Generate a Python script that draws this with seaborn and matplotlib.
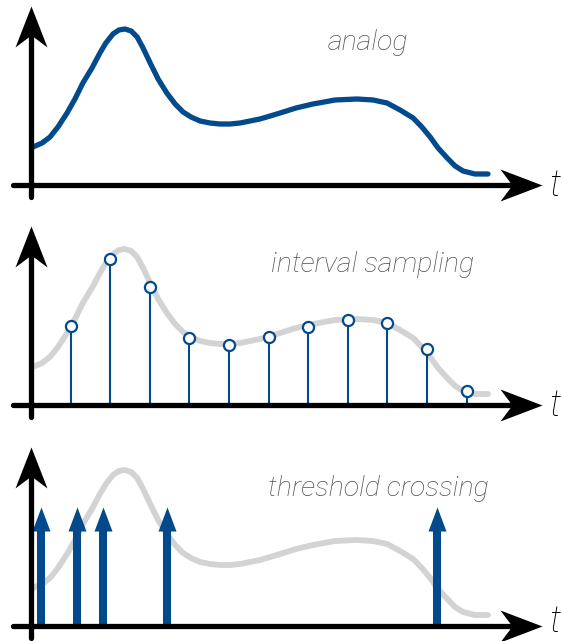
import numpy as np
import pandas as pd
import matplotlib
matplotlib.use("Agg")
import matplotlib.pyplot as plt
from matplotlib.path import Path
import seaborn as sns

# ---------------- data ----------------
# analog signal (time units, amplitude units)
curve_t = [0.05, 0.28, 0.48, 0.68, 0.91, 1.11, 1.31, 1.54, 1.74, 1.89, 2.07, 2.22,
           2.37, 2.53, 2.68, 2.83, 3.01, 3.21, 3.43, 3.64, 3.84, 4.04, 4.27, 4.52,
           4.77, 5.03, 5.28, 5.53, 5.78, 6.04, 6.29, 6.69, 7.12, 7.68, 8.23, 8.64,
           8.99, 9.32, 9.65, 9.87, 10.08, 10.28, 10.51, 10.71, 10.91, 11.21, 11.54]
curve_v = [0.38, 0.42, 0.48, 0.58, 0.72, 0.86, 1.02, 1.17, 1.32, 1.42, 1.51, 1.55,
           1.56, 1.54, 1.48, 1.37, 1.22, 1.06, 0.92, 0.81, 0.73, 0.68, 0.64, 0.62,
           0.61, 0.61, 0.62, 0.64, 0.66, 0.69, 0.72, 0.77, 0.81, 0.85, 0.86, 0.85,
           0.82, 0.75, 0.67, 0.58, 0.48, 0.37, 0.27, 0.19, 0.14, 0.11, 0.11]

# interval samples
sample_t = [1, 2, 3, 4, 5, 6, 7, 8, 9, 10, 11]
sample_v = [0.79, 1.46, 1.18, 0.67, 0.60, 0.68, 0.78, 0.85, 0.82, 0.56, 0.14]

# threshold-crossing events
event_t = [0.25, 1.16, 1.82, 3.43, 10.25]
event_h = [1.19, 1.19, 1.19, 1.19, 1.19]

titles = ["analog", "interval sampling", "threshold crossing"]
title_x = [8.52, 8.62, 8.76]
title_y = [1.35, 1.33, 1.30]

# ---------------- style ----------------
BLUE = "#024a8c"
GRAY = "#d3d3d3"
TXT = "#505050"

sns.set_style("white")
plt.rcParams["font.family"] = ["Roboto", "DejaVu Sans"]

W, H = 563, 641
fig = plt.figure(figsize=(W / 100, H / 100), dpi=100)

XL = (-31 / 39.6, (W - 31) / 39.6)
YL = (-0.35, 1.85)
band = 220 / H
bottoms = [(H - 220) / H, (H - 440) / H, (H - 661) / H]
t_label_y = [-0.19, -0.19, -0.14]

# arrowhead marker shapes (stealth style)
xhead = Path([(0, 0), (-42, -16), (-30, 0), (-42, 16), (0, 0)],
             [Path.MOVETO, Path.LINETO, Path.LINETO, Path.LINETO, Path.CLOSEPOLY])
yhead = Path([(0, 0), (-16, -41), (0, -29), (16, -41), (0, 0)],
             [Path.MOVETO, Path.LINETO, Path.LINETO, Path.LINETO, Path.CLOSEPOLY])
ehead = Path([(0, 0), (-9, -24), (9, -24), (0, 0)],
             [Path.MOVETO, Path.LINETO, Path.LINETO, Path.CLOSEPOLY])

df_curve = pd.DataFrame({"t": curve_t, "v": curve_v})
df_samp = pd.DataFrame({"t": sample_t, "v": sample_v})

X_TIP = 12.9
Y_TIP = 1.79

for i in range(3):
    ax = fig.add_axes([0, bottoms[i], 1, band])
    ax.set_xlim(*XL)
    ax.set_ylim(*YL)
    ax.axis("off")

    if i == 0:
        sns.lineplot(data=df_curve, x="t", y="v", ax=ax, color=BLUE, lw=3.8,
                     sort=False, estimator=None, solid_capstyle="round",
                     solid_joinstyle="round", zorder=3)
    else:
        sns.lineplot(data=df_curve, x="t", y="v", ax=ax, color=GRAY, lw=4.2,
                     sort=False, estimator=None, solid_capstyle="round",
                     solid_joinstyle="round", zorder=1)

    if i == 1:
        ax.vlines(sample_t, 0, sample_v, color=BLUE, lw=1.5, zorder=2)
        sns.scatterplot(data=df_samp, x="t", y="v", ax=ax, marker="o", s=64,
                        facecolor="white", edgecolor=BLUE, linewidth=1.6, zorder=4)

    if i == 2:
        ax.vlines(event_t, 0, [h - 0.2 for h in event_h], color=BLUE, lw=5.8, zorder=2)
        ax.plot(event_t, event_h, ls="none", marker=ehead, ms=34.6, color=BLUE,
                mec="none", zorder=2)

    # axes with arrowheads
    ax.plot([-0.455, X_TIP - 0.6], [0, 0], color="black", lw=3.8,
            solid_capstyle="round", zorder=5, clip_on=False)
    ax.plot([X_TIP], [0], marker=xhead, ms=60.5, color="black", mec="none",
            zorder=5, clip_on=False)
    ax.plot([0, 0], [-0.12, Y_TIP - 0.3], color="black", lw=3.8,
            solid_capstyle="round", zorder=5, clip_on=False)
    ax.plot([0], [Y_TIP], marker=yhead, ms=59, color="black", mec="none",
            zorder=5, clip_on=False)

    ax.text(13.08, t_label_y[i], "t", fontsize=26, style="italic", fontweight="light",
            color="black", ha="left", va="bottom")
    ax.text(title_x[i], title_y[i], titles[i], fontsize=20.5, style="italic",
            fontweight=200, color=TXT, ha="center", va="baseline")

fig.savefig("out.png", dpi=100)
